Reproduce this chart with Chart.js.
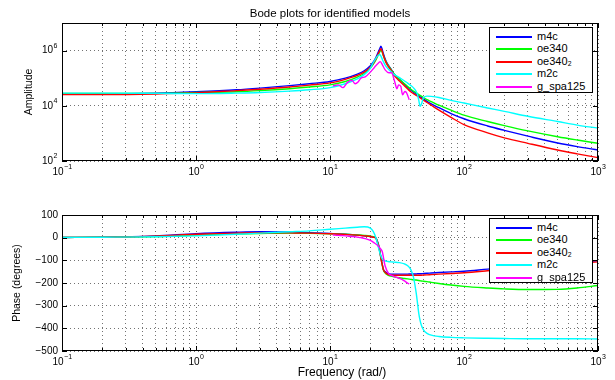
<!DOCTYPE html>
<html>
<head>
<meta charset="utf-8">
<style>
  html, body { margin: 0; padding: 0; background: #fff; }
  #wrap { position: relative; width: 615px; height: 380px; }
  #wrap canvas { position: absolute; left: 0; }
  #amp { top: 0; }
  #phase { top: 190px; }
  .legend {
    position: absolute; background: #fff; border: 1px solid #000; box-sizing: border-box;
    font: 11px 'Liberation Sans', Arial, sans-serif; color: #000;
  }
  .legend .row { position: absolute; left: 6px; width: 90px; height: 13px; line-height: 13px; white-space: nowrap; }
  .legend .swatch { position: absolute; left: 0; top: 6px; width: 36px; height: 2px; }
  .legend .txt { position: absolute; left: 41px; top: 0; }
</style>
</head>
<body>
<div id="wrap">
  <canvas id="amp" width="615" height="190"></canvas>
  <canvas id="phase" width="615" height="190"></canvas>
  <div id="ampLegend" class="legend" style="left:489px; top:27px; width:104px; height:66px"></div>
  <div id="phaseLegend" class="legend" style="left:489px; top:218px; width:104px; height:65px"></div>
</div>

<script src="https://cdn.jsdelivr.net/npm/chart.js"></script>

<script>
  const seriesNames = ['m4c', 'oe340', 'oe340₂', 'm2c', 'g_spa125'];
  const seriesColors = ['#0000ff', '#00ff00', '#ff0000', '#00ffff', '#ff00ff'];

  // frequency grid (rad/s) shared by the four parametric models
  const freq = [0.1, 0.2, 0.5, 1, 2, 3, 5, 7, 10,
    13, 16, 18, 20, 21, 22, 23, 23.5, 24, 24.5,
    25, 26, 27, 28.5, 30, 33, 36, 38, 40, 42,
    44, 45, 46, 47, 48, 50, 53, 57, 65, 80,
    100, 150, 200, 300, 500, 700, 1000];

  const m4cAmp = [2.75e4, 2.75e4, 2.88e4, 3.24e4, 3.80e4, 4.37e4, 5.37e4, 6.31e4, 7.59e4,
    1.0e5, 1.41e5, 1.86e5, 2.82e5, 3.80e5, 5.62e5, 9.33e5, 1.17e6, 1.45e6, 1.12e6,
    7.94e5, 4.57e5, 3.16e5, 2.19e5, 1.41e5, 8.91e4, 6.03e4, 4.68e4, 3.72e4, 3.09e4,
    2.63e4, 2.45e4, 2.29e4, 2.14e4, 2.0e4, 1.74e4, 1.45e4, 1.17e4, 8.51e3, 5.25e3,
    3.39e3, 1.86e3, 1.29e3, 794, 447, 331, 251];
  const oe340Amp = [2.82e4, 2.82e4, 2.82e4, 3.02e4, 3.24e4, 3.55e4, 4.17e4, 4.79e4, 5.75e4,
    7.59e4, 1.10e5, 1.48e5, 2.34e5, 3.16e5, 4.57e5, 7.24e5, 8.91e5, 1.05e6, 8.91e5,
    6.61e5, 4.17e5, 3.02e5, 2.09e5, 1.45e5, 9.12e4, 6.31e4, 5.01e4, 4.07e4, 3.39e4,
    2.95e4, 2.75e4, 2.57e4, 2.40e4, 2.24e4, 2.0e4, 1.66e4, 1.41e4, 1.05e4, 6.92e3,
    4.57e3, 2.69e3, 1.91e3, 1.23e3, 759, 575, 437];
  const oe340bAmp = [2.57e4, 2.57e4, 2.69e4, 2.95e4, 3.55e4, 3.98e4, 4.79e4, 5.62e4, 6.76e4,
    9.12e4, 1.26e5, 1.66e5, 2.51e5, 3.39e5, 5.01e5, 7.94e5, 1.0e6, 1.17e6, 9.55e5,
    6.76e5, 3.98e5, 2.82e5, 1.95e5, 1.29e5, 7.94e4, 5.25e4, 4.07e4, 3.24e4, 2.75e4,
    2.40e4, 2.24e4, 2.09e4, 1.95e4, 1.82e4, 1.58e4, 1.32e4, 1.05e4, 6.92e3, 3.80e3,
    2.09e3, 1.05e3, 692, 437, 251, 182, 132];
  const m2cAmp = [2.88e4, 2.88e4, 2.82e4, 2.75e4, 2.88e4, 3.02e4, 3.39e4, 3.80e4, 4.57e4,
    6.31e4, 9.55e4, 1.35e5, 2.29e5, 3.63e5, 5.25e5, 6.92e5, 7.24e5, 6.31e5, 5.01e5,
    3.98e5, 2.82e5, 2.24e5, 1.74e5, 1.38e5, 1.05e5, 7.94e4, 6.61e4, 5.50e4, 4.47e4,
    3.31e4, 2.51e4, 1.58e4, 9.55e3, 1.12e4, 2.0e4, 2.24e4, 2.19e4, 2.0e4, 1.58e4,
    1.26e4, 8.32e3, 6.31e3, 4.17e3, 2.69e3, 2.0e3, 1.55e3];

  const m4cPhase = [1, 2, 8, 18, 24, 26, 25, 22, 19,
    15, 11, 8, 5, 3, -1, -30, -55, -88, -115,
    -139, -152, -158, -161, -161, -161, -161, -161, -160, -160,
    -160, -159, -159, -159, -159, -158, -157, -156, -154, -151,
    -148, -139, -133, -125, -115, -108, -102];
  const oe340Phase = [1, 2, 5, 11, 16, 18, 20, 19, 17,
    15, 12, 10, 7, 4, -2, -32, -58, -90, -118,
    -142, -158, -165, -170, -173, -177, -180, -182, -184, -186,
    -187, -188, -189, -190, -191, -192, -194, -197, -202, -209,
    -215, -222, -226, -229, -228, -222, -211];
  const oe340bPhase = [1, 2, 7, 15, 20, 22, 21, 20, 17,
    14, 11, 8, 5, 2, -3, -35, -60, -92, -118,
    -140, -155, -162, -165, -166, -166, -166, -166, -166, -166,
    -166, -166, -166, -166, -166, -165, -164, -163, -161, -158,
    -155, -146, -139, -130, -120, -112, -107];
  const m2cPhase = [1, 2, 4, 8, 15, 20, 26, 30, 37,
    42, 46, 48, 42, 28, 0, -45, -65, -82, -92,
    -98, -103, -105, -107, -108, -110, -116, -124, -140, -175,
    -245, -290, -335, -365, -385, -408, -422, -430, -436, -440,
    -442, -444, -445, -446, -446, -446, -447];

  // spectral estimate, only defined over a narrow band
  const spaFreq = [10.5, 11.5, 12.5, 13.5, 14.6, 15.4, 16.2, 17, 18.3, 20, 21.5, 23, 23.7,
    24.5, 25.8, 27.5, 28.8, 30.3, 31.6, 32.5, 33.8, 34.8, 36.2, 37.2, 39];
  const spaAmp = [5.25e4, 5.75e4, 4.57e4, 7.08e4, 8.32e4, 6.31e4, 7.24e4, 1.0e5, 1.12e5, 1.66e5,
    2.51e5, 3.55e5, 3.98e5, 3.16e5, 2.0e5, 1.58e5, 1.58e5, 7.94e4, 4.17e4, 5.75e4,
    5.01e4, 2.51e4, 3.31e4, 3.02e4, 1.66e4];
  const spaPhase = [12, 10, 9, 7, 5, 4, 2, 0, -4, -12, -24, -38, -47,
    -60, -125, -160, -166, -172, -175, -178, -182, -186, -192, -197, -205];

  const decadeTicks = [0.1, 1, 10, 100, 1000];
  const decadeExponents = ['\u22121', '0', '1', '2', '3'];
  const ampTicks = [1e2, 1e4, 1e6];
  const ampExponents = ['2', '4', '6'];
  const phaseTicks = [-500, -400, -300, -200, -100, 0, 100];

  // x grid: every 1..9 step inside each decade
  const xGrid = [];
  decadeTicks.slice(0, -1).forEach(d => {
    for (let k = 1; k < 10; k++) xGrid.push(d * k);
  });
  xGrid.push(1000);

  const FONT = "'Liberation Sans', Arial, sans-serif";
  const gridColor = 'rgba(0,0,0,0.55)';

  const decadeIndex = v => decadeTicks.findIndex(d => Math.abs(v - d) < d * 1e-6);

  const makeSets = (series) => series.map((s, i) => ({
    label: seriesNames[i],
    data: s.x.map((f, j) => ({ x: f, y: s.y[j] })),
    borderColor: seriesColors[i],
    backgroundColor: seriesColors[i],
    borderWidth: 1.4,
    pointRadius: 0,
    fill: false,
    cubicInterpolationMode: 'monotone',
    order: series.length - i,
  }));

  // "10" with a raised exponent, the way the log axes are labelled
  function powerLabel(ctx, exp, x, y, align) {
    ctx.font = '10px ' + FONT;
    const wb = ctx.measureText('10').width;
    ctx.font = '7px ' + FONT;
    const we = ctx.measureText(exp).width;
    const x0 = align === 'right' ? x - wb - we : x - (wb + we) / 2;
    ctx.textAlign = 'left';
    ctx.textBaseline = 'middle';
    ctx.font = '10px ' + FONT;
    ctx.fillText('10', x0, y);
    ctx.font = '7px ' + FONT;
    ctx.fillText(exp, x0 + wb + 0.5, y - 5);
  }

  const frame = {
    id: 'frame',
    afterDatasetsDraw(chart, args, opts) {
      const { ctx, chartArea: a, scales } = chart;
      ctx.save();
      ctx.strokeStyle = '#000';
      ctx.lineWidth = 1;
      ctx.beginPath();
      scales.x.ticks.forEach(t => {
        const px = Math.round(scales.x.getPixelForValue(t.value)) + 0.5;
        const len = t.major ? 5 : 3;
        ctx.moveTo(px, a.bottom); ctx.lineTo(px, a.bottom - len);
        ctx.moveTo(px, a.top); ctx.lineTo(px, a.top + len);
      });
      scales.y.ticks.forEach(t => {
        const py = Math.round(scales.y.getPixelForValue(t.value)) + 0.5;
        ctx.moveTo(a.left, py); ctx.lineTo(a.left + 5, py);
        ctx.moveTo(a.right, py); ctx.lineTo(a.right - 5, py);
      });
      ctx.stroke();
      ctx.strokeRect(a.left + 0.5, a.top + 0.5, a.width - 1, a.height - 1);

      ctx.fillStyle = '#000';
      // decade labels on the frequency axis
      decadeTicks.forEach((d, i) => {
        powerLabel(ctx, decadeExponents[i], scales.x.getPixelForValue(d), a.bottom + 11, 'center');
      });
      if (opts.logY) {
        ampTicks.forEach((v, i) => {
          powerLabel(ctx, ampExponents[i], a.left - 5, scales.y.getPixelForValue(v), 'right');
        });
      }
      ctx.textAlign = 'center';
      ctx.textBaseline = 'middle';
      if (opts.title) {
        ctx.font = '11.5px ' + FONT;
        ctx.fillText(opts.title, (a.left + a.right) / 2, a.top - 9);
      }
      if (opts.xTitle) {
        ctx.font = '12px ' + FONT;
        ctx.fillText(opts.xTitle, (a.left + a.right) / 2 + 12, a.bottom + 22);
      }
      ctx.restore();
    }
  };

  const xScale = {
    type: 'logarithmic',
    min: 0.1,
    max: 1000,
    afterBuildTicks: s => { s.ticks = xGrid.map(v => ({ value: v, major: decadeIndex(v) >= 0 })); },
    afterFit: s => { s.height = 29; },
    grid: { color: gridColor, lineWidth: 1, drawTicks: false },
    border: { display: false, dash: [1, 3] },
    ticks: { display: false, autoSkip: false },
  };

  const ampChart = new Chart(document.getElementById('amp'), {
    type: 'line',
    data: {
      datasets: makeSets([
        { x: freq, y: m4cAmp },
        { x: freq, y: oe340Amp },
        { x: freq, y: oe340bAmp },
        { x: freq, y: m2cAmp },
        { x: spaFreq, y: spaAmp },
      ]),
    },
    options: {
      responsive: false,
      animation: false,
      events: [],
      layout: { padding: { top: 23, right: 17, left: 0, bottom: 0 } },
      plugins: {
        legend: { display: false }, tooltip: { enabled: false },
        frame: { title: 'Bode plots for identified models', logY: true },
      },
      scales: {
        x: xScale,
        y: {
          type: 'logarithmic',
          min: 1e2,
          max: 1e7,
          afterBuildTicks: s => { s.ticks = ampTicks.map(v => ({ value: v, major: true })); },
          afterFit: s => { s.width = 62; },
          grid: { color: gridColor, lineWidth: 1, drawTicks: false },
          border: { display: false, dash: [1, 3] },
          ticks: { display: false },
          title: {
            display: true, text: 'Amplitude', color: '#000',
            font: { family: FONT, size: 10.5 }, padding: { top: 23, bottom: 0 },
          },
        },
      },
    },
    plugins: [frame],
  });

  const phaseChart = new Chart(document.getElementById('phase'), {
    type: 'line',
    data: {
      datasets: makeSets([
        { x: freq, y: m4cPhase },
        { x: freq, y: oe340Phase },
        { x: freq, y: oe340bPhase },
        { x: freq, y: m2cPhase },
        { x: spaFreq, y: spaPhase },
      ]),
    },
    options: {
      responsive: false,
      animation: false,
      events: [],
      layout: { padding: { top: 25, right: 17, left: 0, bottom: 0 } },
      plugins: {
        legend: { display: false }, tooltip: { enabled: false },
        frame: { xTitle: 'Frequency (rad/)' },
      },
      scales: {
        x: xScale,
        y: {
          type: 'linear',
          min: -500,
          max: 100,
          afterBuildTicks: s => { s.ticks = phaseTicks.map(v => ({ value: v, major: true })); },
          afterFit: s => { s.width = 62; },
          grid: { color: gridColor, lineWidth: 1, drawTicks: false },
          border: { display: false, dash: [1, 3] },
          ticks: {
            padding: 4, color: '#000', font: { family: FONT, size: 10 },
            callback: v => String(v).replace('-', '\u2212'),
          },
          title: {
            display: true, text: 'Phase (degrees)', color: '#000',
            font: { family: FONT, size: 10.5 }, padding: { top: 11, bottom: 0 },
          },
        },
      },
    },
    plugins: [frame],
  });

  const buildLegend = (chart, id) => {
    document.getElementById(id).innerHTML = chart.data.datasets.map((ds, i) =>
      `<div class="row" style="top:${Math.round(1.5 + i * 12.5)}px">` +
      `<span class="swatch" style="background:${ds.borderColor}"></span>` +
      `<span class="txt">${ds.label}</span></div>`
    ).join('');
  };
  buildLegend(ampChart, 'ampLegend');
  buildLegend(phaseChart, 'phaseLegend');
</script>
</body>
</html>
